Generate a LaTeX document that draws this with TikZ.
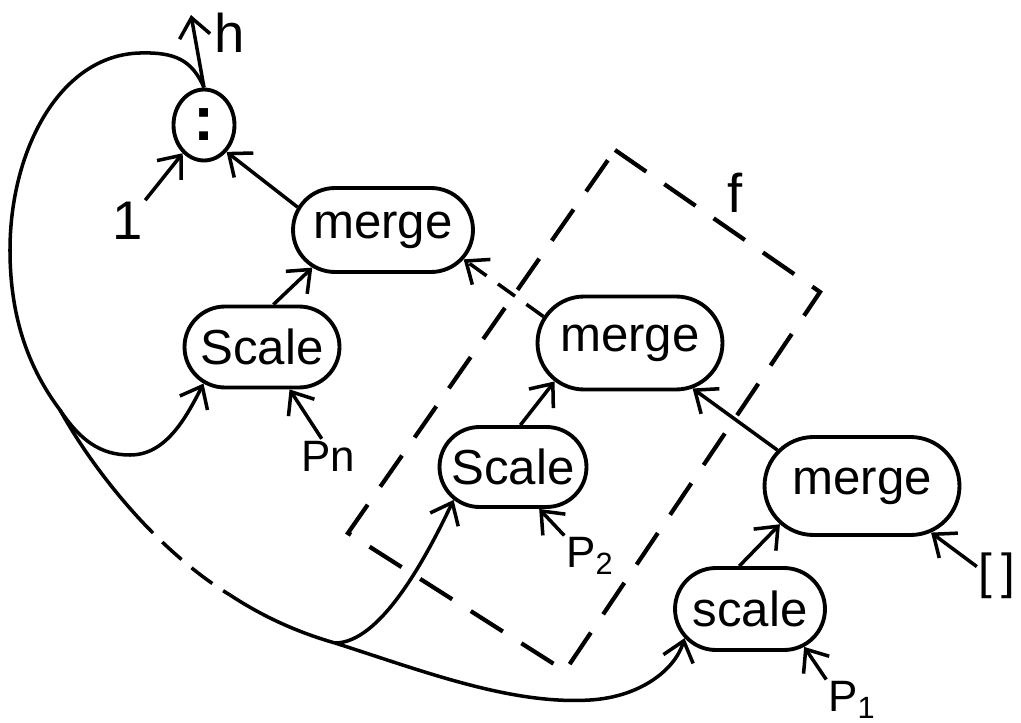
\documentclass[tikz,border=0pt]{standalone}
\usepackage{fontspec}
\setmainfont{Liberation Sans}
\usetikzlibrary{shapes.misc,shapes.geometric,arrows.meta}
\begin{document}
\begin{tikzpicture}[x=0.02cm,y=-0.02cm,
  box/.style={rounded rectangle, draw, line width=2.2pt, inner sep=0pt,
    font=\fontsize{28}{32}\selectfont},
  lab/.style={inner sep=1pt, font=\fontsize{25}{29}\selectfont},
  biglab/.style={inner sep=1pt, font=\fontsize{31}{35}\selectfont},
  conn/.style={line width=2pt, -{Straight Barb[length=0.38cm,width=0.62cm]}},
  plain/.style={line width=2pt},
  dashbox/.style={line width=2.4pt, dash pattern=on 0.76cm off 0.44cm},
  shortdash/.style={dash pattern=on 0.42cm off 0.28cm},
  loopdash/.style={dash pattern=on 0.52cm off 0.26cm, dash phase=0.52cm}]
\useasboundingbox (0,0) rectangle (1021,723);

% nodes
\node[ellipse, draw, line width=2.2pt, minimum width=1.22cm, minimum height=1.42cm,
  inner sep=0pt, font=\fontsize{36}{40}\selectfont\bfseries] (cons) at (204,125) {:};
\node[box, minimum width=3.6cm, minimum height=1.68cm] (merge1) at (383,230) {merge};
\node[box, minimum width=3.1cm, minimum height=1.62cm] (scale1) at (262,347) {Scale};
\node[box, minimum width=3.7cm, minimum height=1.86cm] (merge2) at (630,343) {merge};
\node[box, minimum width=2.94cm, minimum height=1.6cm] (scale2) at (513,467) {Scale};
\node[box, minimum width=3.9cm, minimum height=1.96cm] (merge3) at (862,486) {merge};
\node[box, minimum width=3.0cm, minimum height=1.64cm] (scale3) at (750,609) {scale};

% labels
\node[biglab] (one) at (128,221) {1};
\node[biglab] (hlab) at (230,33) {h};
\node[biglab] (flab) at (735,193) {f};
\node[lab] (pn) at (328,456) {Pn};
\node[lab] (p2) at (590,556) {P\textsubscript{2}};
\node[lab] (p1) at (852,700) {P\textsubscript{1}};
\node[lab, font=\fontsize{28}{32}\selectfont] (nil) at (997,576) {[\kern5pt]};

% dashed box f
\coordinate (ftop) at (615,150);
\coordinate (fright) at (820,292);
\coordinate (fbot) at (565,671);
\coordinate (fleft) at (348,533);
\draw[dashbox] (ftop) -- (fright) -- (fbot) -- (fleft) -- cycle;

% connectors
\coordinate (htip) at (191,15);
\draw[conn] (cons.north) -- (htip);
\draw[conn] (one.north east) -- (cons.-127);
\draw[conn] (merge1.165) -- (cons.-50);
\draw[conn] (scale1.75) -- (merge1.208);
\draw[conn, shortdash] (merge2.163) -- (merge1.-20);
\draw[conn] (pn.110) -- (scale1.-57);
\draw[conn] (scale2.80) -- (merge2.207);
\draw[conn] (merge3.157) -- (merge2.-36);
\draw[conn] (p2.north west) -- (scale2.-58);
\draw[conn] (scale3.104) -- (merge3.205);
\draw[conn] (nil.155) -- (merge3.-34);
\draw[conn] (p1.north west) -- (scale3.-35);

% feedback loops
\coordinate (s1) at (60,410);
\coordinate (s2) at (335,643);
\coordinate (d1) at (153,533);
\coordinate (d2) at (230,595);
\draw[plain] (cons.north) .. controls (192,60) and (175,52) .. (140,53)
  .. controls (60,55) and (10,150) .. (10,250)
  .. controls (10,320) and (30,370) .. (s1);
\draw[conn] (s1) .. controls (80,440) and (100,455) .. (130,455)
  .. controls (165,455) and (185,420) .. (scale1.212);
\draw[plain] (s1) .. controls (85,455) and (120,500) .. (d1);
\draw[plain, loopdash] (d1) .. controls (178,558) and (205,580) .. (d2);
\draw[plain] (d2) .. controls (265,618) and (300,633) .. (s2);
\draw[conn] (s2) .. controls (380,643) and (425,560) .. (scale2.209);
\draw[conn] (s2) .. controls (420,670) and (510,705) .. (590,700)
  .. controls (640,697) and (675,670) .. (scale3.204);
\end{tikzpicture}
\end{document}
